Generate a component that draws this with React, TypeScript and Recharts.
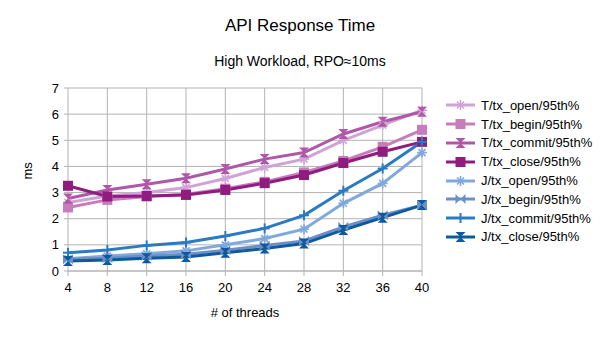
import React from "react";
import { CartesianGrid, Label, Line, LineChart, XAxis, YAxis } from "recharts";

const threads = [4, 8, 12, 16, 20, 24, 28, 32, 36, 40];

const tOpen = [2.62, 2.87, 3.0, 3.19, 3.54, 3.96, 4.28, 5.0, 5.58, 6.15];
const tBegin = [2.43, 2.72, 2.85, 2.94, 3.15, 3.41, 3.77, 4.21, 4.75, 5.4];
const tCommit = [2.77, 3.1, 3.32, 3.55, 3.9, 4.28, 4.53, 5.24, 5.71, 6.09];
const tClose = [3.26, 2.85, 2.87, 2.91, 3.1, 3.36, 3.67, 4.13, 4.56, 4.94];
const jOpen = [0.47, 0.57, 0.66, 0.77, 1.0, 1.24, 1.6, 2.59, 3.35, 4.53];
const jBegin = [0.45, 0.49, 0.57, 0.64, 0.79, 0.98, 1.15, 1.69, 2.13, 2.52];
const jCommit = [0.7, 0.8, 0.98, 1.09, 1.34, 1.63, 2.13, 3.07, 3.92, 4.94];
const jClose = [0.38, 0.42, 0.49, 0.54, 0.7, 0.86, 1.05, 1.57, 2.04, 2.52];

const yTicks = [0, 1, 2, 3, 4, 5, 6, 7];

type Shape = "star" | "square" | "hourglass" | "bowtie" | "plus";

const series: { key: string; name: string; color: string; shape: Shape; values: number[] }[] = [
  { key: "tOpen", name: "T/tx_open/95th%", color: "#d0a3d8", shape: "star", values: tOpen },
  { key: "tBegin", name: "T/tx_begin/95th%", color: "#c77cbb", shape: "square", values: tBegin },
  { key: "tCommit", name: "T/tx_commit/95th%", color: "#b058a8", shape: "hourglass", values: tCommit },
  { key: "tClose", name: "T/tx_close/95th%", color: "#8f1c7e", shape: "square", values: tClose },
  { key: "jOpen", name: "J/tx_open/95th%", color: "#7fa8dc", shape: "star", values: jOpen },
  { key: "jBegin", name: "J/tx_begin/95th%", color: "#6b8fc8", shape: "bowtie", values: jBegin },
  { key: "jCommit", name: "J/tx_commit/95th%", color: "#2a7bc2", shape: "plus", values: jCommit },
  { key: "jClose", name: "J/tx_close/95th%", color: "#0e5a9c", shape: "hourglass", values: jClose },
];

const data = threads.map((t, i) => {
  const row: Record<string, number> = { threads: t };
  series.forEach((s) => (row[s.key] = s.values[i]));
  return row;
});

const FONT = "'Liberation Sans', Arial, sans-serif";
const GRID = "#b3b3b3";

function Marker({ x, y, shape, color }: { x: number; y: number; shape: Shape; color: string }) {
  const r = 5;
  if (shape === "square")
    return <rect x={x - r} y={y - r} width={r * 2} height={r * 2} fill={color} />;
  if (shape === "hourglass")
    return <path d={`M${x - r},${y - r}L${x + r},${y - r}L${x - r},${y + r}L${x + r},${y + r}Z`} fill={color} />;
  if (shape === "bowtie")
    return <path d={`M${x - r},${y - r}L${x + r},${y + r}L${x + r},${y - r}L${x - r},${y + r}Z`} fill={color} />;
  if (shape === "plus")
    return (
      <g stroke={color} strokeWidth={2}>
        <line x1={x} y1={y - r} x2={x} y2={y + r} />
        <line x1={x - r} y1={y} x2={x + r} y2={y} />
      </g>
    );
  return (
    <g stroke={color} strokeWidth={1.6}>
      <line x1={x} y1={y - r} x2={x} y2={y + r} />
      <line x1={x - r} y1={y} x2={x + r} y2={y} />
      <line x1={x - 3.5} y1={y - 3.5} x2={x + 3.5} y2={y + 3.5} />
      <line x1={x - 3.5} y1={y + 3.5} x2={x + 3.5} y2={y - 3.5} />
    </g>
  );
}

function LegendBox() {
  return (
    <div style={{ position: "absolute", left: 445, top: 96, fontFamily: FONT, fontSize: 13, color: "#000" }}>
      {series.map((s) => (
        <div key={s.key} style={{ display: "flex", alignItems: "center", height: 18.8 }}>
          <svg width={36} height={14}>
            <line x1={1} y1={7} x2={30} y2={7} stroke={s.color} strokeWidth={3} />
            <Marker x={15.5} y={7} shape={s.shape} color={s.color} />
          </svg>
          <span style={{ whiteSpace: "nowrap" }}>{s.name}</span>
        </div>
      ))}
    </div>
  );
}

export default function App() {
  return (
    <div style={{ position: "relative", width: 604, height: 340, background: "#fff", fontFamily: FONT }}>
      <style>{"body{margin:0}"}</style>
      <LineChart
        width={604}
        height={340}
        data={data}
        margin={{ top: 88, right: 182, bottom: 0, left: 0 }}
        style={{ position: "absolute", top: 0, left: 0 }}
      >
        <CartesianGrid stroke={GRID} strokeWidth={1} />
        <XAxis
          dataKey="threads"
          height={69}
          stroke={GRID}
          tickSize={5}
          tick={{ fill: "#000", fontSize: 13, fontFamily: FONT }}
          tickMargin={7}
          interval={0}
        >
          <Label value="# of threads" position="insideBottom" offset={23} fill="#000" fontSize={13} fontFamily={FONT} />
        </XAxis>
        <YAxis
          domain={[0, 7]}
          ticks={yTicks}
          width={68}
          stroke={GRID}
          axisLine={false}
          tickSize={4}
          tickMargin={5}
          tick={{ fill: "#000", fontSize: 13, fontFamily: FONT }}
        >
          <Label value="ms" angle={-90} position="insideLeft" offset={27} fill="#000" fontSize={13} fontFamily={FONT} />
        </YAxis>
        {series.map((s) => (
          <Line
            key={s.key}
            dataKey={s.key}
            name={s.name}
            stroke={s.color}
            strokeWidth={3}
            type="linear"
            isAnimationActive={false}
            dot={(p: any) => <Marker key={`${s.key}-${p.index}`} x={p.cx} y={p.cy} shape={s.shape} color={s.color} />}
            activeDot={false}
          />
        ))}
      </LineChart>
      <div style={{ position: "absolute", top: 16, left: -2, width: 604, textAlign: "center", fontSize: 17 }}>
        API Response Time
      </div>
      <div style={{ position: "absolute", top: 53, left: -2, width: 604, textAlign: "center", fontSize: 14 }}>
        High Workload, RPO≈10ms
      </div>
      <LegendBox />
    </div>
  );
}
